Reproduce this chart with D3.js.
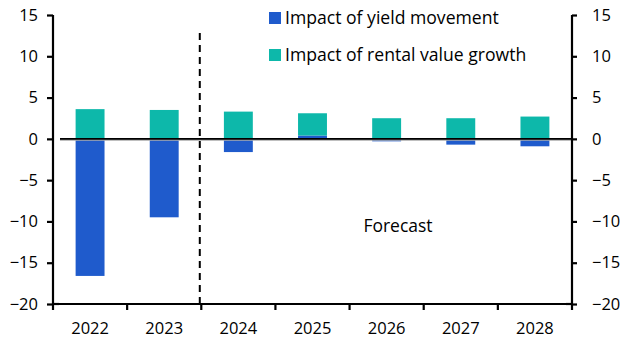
<!DOCTYPE html>
<html><head><meta charset="utf-8">
<script src="https://cdn.jsdelivr.net/npm/d3@7"></script>
<style>body{margin:0;background:#fff}svg{display:block}text{font-family:"Open Sans",sans-serif;fill:#000}</style>
</head><body>
<svg id="c" width="630" height="355"></svg>
<script>
const years = ["2022","2023","2024","2025","2026","2027","2028"];
const yieldImpact = [-16.6, -9.5, -1.6, 0.4, -0.3, -0.7, -0.9];
const rentalImpact = [3.6, 3.5, 3.3, 2.7, 2.5, 2.5, 2.7];
const yTicks = [15, 10, 5, 0, -5, -10, -15, -20];
const seriesNames = ["Impact of yield movement", "Impact of rental value growth"];
const colors = ["#1f5bcc", "#0db8aa"];
const FONT = "'Open Sans', sans-serif";

const svg = d3.select("#c");
const L = 53, R = 572, T = 15, B = 304;
const x = d3.scaleBand().domain(years).range([L, R]).paddingInner(0.61).paddingOuter(0.305);
const xb = d3.scaleBand().domain(years).range([L, R]);
const y = d3.scaleLinear().domain([-20, 15]).range([B, T]);

years.forEach((yr, i) => {
  const vals = [yieldImpact[i], rentalImpact[i]];
  let pos = 0, neg = 0;
  vals.forEach((v, k) => {
    let y0, y1;
    if (v >= 0) { y0 = pos; y1 = pos + v; pos = y1; }
    else { y0 = neg; y1 = neg + v; neg = y1; }
    svg.append("rect")
      .attr("x", x(yr)).attr("width", x.bandwidth())
      .attr("y", y(Math.max(y0, y1))).attr("height", Math.abs(y(y0) - y(y1)))
      .attr("fill", colors[k]);
  });
});

svg.append("line").attr("x1", 60).attr("x2", R).attr("y1", y(0) + 1).attr("y2", y(0) + 1)
  .attr("stroke", "#aaa").attr("stroke-width", 2);
svg.append("line").attr("x1", 60).attr("x2", R).attr("y1", y(0)).attr("y2", y(0))
  .attr("stroke", "#000").attr("stroke-width", 1.6);

const xd = xb("2024") - 1.5;
svg.append("line").attr("x1", xd).attr("x2", xd).attr("y1", 33).attr("y2", B)
  .attr("stroke", "#000").attr("stroke-width", 2).attr("stroke-dasharray", "7,5");

const la = svg.append("g").attr("transform", `translate(${L},0)`)
  .call(d3.axisLeft(y).tickValues(yTicks).tickSize(6).tickPadding(9).tickFormat(d3.format("d")));
const ra = svg.append("g").attr("transform", `translate(${R},0)`)
  .call(d3.axisRight(y).tickValues(yTicks).tickSize(5).tickPadding(15).tickFormat(d3.format("d")));
[la, ra].forEach(g => {
  g.select(".domain").attr("d", `M0,${T}V${B}`).attr("stroke-width", 2.2);
  g.selectAll(".tick line").attr("stroke-width", 2.2);
  g.selectAll(".tick text").style("font-size", "16.5px").style("font-family", FONT);
});
svg.append("line").attr("x1", L + 1).attr("x2", L + 6).attr("y1", B).attr("y2", B).attr("stroke", "#000").attr("stroke-width", 2.2);
svg.append("line").attr("x1", R - 6).attr("x2", R).attr("y1", B).attr("y2", B).attr("stroke", "#000").attr("stroke-width", 2.2);

const xa = svg.append("g").attr("transform", `translate(0,${B})`)
  .call(d3.axisBottom(xb).tickSize(0).tickPadding(18));
xa.select(".domain").attr("d", `M${L},0H${R}`).attr("stroke-width", 2.2);
xa.selectAll(".tick text").style("font-size", "16.5px").style("font-family", FONT);
const bounds = years.map(d => xb(d)).concat([R]);
xa.selectAll(".sep").data(bounds).enter().append("line").attr("class", "sep")
  .attr("x1", d => d).attr("x2", d => d).attr("y1", 0).attr("y2", 6)
  .attr("stroke", "#000").attr("stroke-width", 2.2);

svg.append("text").attr("x", 398).attr("y", 232).attr("text-anchor", "middle")
  .style("font-size", "17.5px").text("Forecast");

seriesNames.forEach((n, i) => {
  const ly = 18 + i * 37;
  svg.append("rect").attr("x", 269).attr("y", ly - 6).attr("width", 12).attr("height", 12).attr("fill", colors[i]);
  svg.append("text").attr("x", 285).attr("y", ly + 6).style("font-size", "17.6px").text(n);
});
</script>
</body></html>
